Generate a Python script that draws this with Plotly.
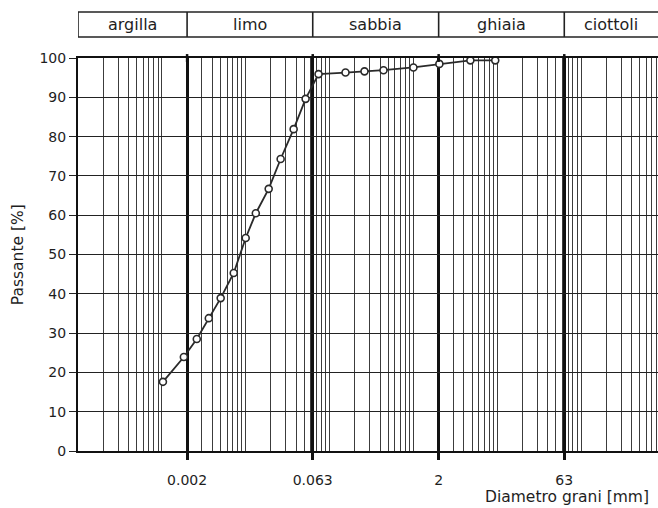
import numpy as np
import plotly.graph_objects as go

# Grain-size data (diameter mm, passing %)
diam = [0.00103, 0.00183, 0.00261, 0.00363, 0.00503, 0.0072, 0.0100, 0.0132,
        0.0188, 0.0261, 0.0373, 0.0518, 0.0739, 0.155, 0.261, 0.44, 1.0, 2.04,
        4.78, 9.46]
passing = [17.6, 23.9, 28.5, 33.8, 38.9, 45.3, 54.2, 60.5, 66.7, 74.3, 81.9,
           89.6, 95.9, 96.3, 96.6, 96.9, 97.6, 98.5, 99.4, 99.4]

class_bounds = [0.0001, 0.002, 0.063, 2, 63]
class_names = ["argilla", "limo", "sabbia", "ghiaia", "ciottoli"]
major_ticks = [0.002, 0.063, 2, 63]
major_labels = ["0.002", "0.063", "2", "63"]
y_ticks = list(range(0, 101, 10))

x_log_range = [-4, 2.917]
minor_vals = [m * 10.0 ** e for e in range(-4, 3) for m in range(1, 10)]

FONT = "DejaVu Sans"
TXT = "#1e1e1e"

fig = go.Figure()
fig.add_trace(go.Scatter(
    x=diam, y=passing, mode="lines+markers",
    line=dict(color="#2a2a2a", width=1.8),
    marker=dict(symbol="circle", size=7, color="white",
                line=dict(color="#2a2a2a", width=1.6)),
    cliponaxis=False, showlegend=False,
))

shapes = []
# header boxes
upper = 10 ** x_log_range[1]
bounds = class_bounds + [upper]
y_lo, y_hi = 1.0535, 1.117
shapes.append(dict(type="line", xref="x", yref="paper", x0=bounds[0], x1=bounds[-1],
                   y0=y_hi, y1=y_hi, line=dict(color="#222", width=1.6)))
shapes.append(dict(type="line", xref="x", yref="paper", x0=bounds[0], x1=bounds[-1],
                   y0=y_lo, y1=y_lo, line=dict(color="#222", width=1.6)))
for b in bounds[:-1]:
    shapes.append(dict(type="line", xref="x", yref="paper", x0=b, x1=b,
                       y0=y_lo, y1=y_hi, line=dict(color="#222", width=1.6)))
# thick class lines extending slightly above the top
for b in major_ticks:
    shapes.append(dict(type="line", xref="x", yref="paper", x0=b, x1=b,
                       y0=0.99, y1=1.01, line=dict(color="#111", width=2.5)))

annotations = []
for i, name in enumerate(class_names):
    cx = (np.log10(bounds[i]) + np.log10(bounds[i + 1])) / 2
    annotations.append(dict(x=cx, y=(y_lo + y_hi) / 2, xref="x", yref="paper",
                            text=name, showarrow=False,
                            xanchor="center", yanchor="middle",
                            font=dict(family=FONT, size=16, color=TXT)))
annotations.append(dict(x=0.988, y=-0.117, xref="paper", yref="paper",
                        text="Diametro grani [mm]", showarrow=False,
                        xanchor="right", yanchor="middle",
                        font=dict(family=FONT, size=15.5, color=TXT)))
annotations.append(dict(x=-0.104, y=0.5, xref="paper", yref="paper",
                        text="Passante [%]", showarrow=False, textangle=-90,
                        xanchor="center", yanchor="middle",
                        font=dict(family=FONT, size=15.5, color=TXT)))

fig.update_layout(
    width=658, height=508,
    margin=dict(l=78, r=0, t=58, b=57),
    paper_bgcolor="white", plot_bgcolor="white",
    shapes=shapes, annotations=annotations,
    xaxis=dict(
        type="log", range=x_log_range,
        tickmode="array", tickvals=major_ticks, ticktext=major_labels,
        ticks="outside", ticklen=7, tickwidth=2.5, tickcolor="#111",
        ticklabelstandoff=8,
        showgrid=True, gridcolor="#111", gridwidth=2.6,
        showline=True, linecolor="#111", linewidth=2, mirror=True,
        tickfont=dict(family=FONT, size=14, color=TXT),
        minor=dict(tickmode="array", tickvals=minor_vals, showgrid=True,
                   gridcolor="#3c3c3c", gridwidth=1, ticks=""),
        zeroline=False,
    ),
    yaxis=dict(
        range=[0, 100], tickmode="array", tickvals=y_ticks,
        ticks="outside", ticklen=7, tickwidth=1.3, tickcolor="#222",
        showgrid=True, gridcolor="#222", gridwidth=1.3,
        showline=True, linecolor="#111", linewidth=2,
        tickfont=dict(family=FONT, size=14, color=TXT),
        zeroline=False,
    ),
)

fig.write_html("out.html")
